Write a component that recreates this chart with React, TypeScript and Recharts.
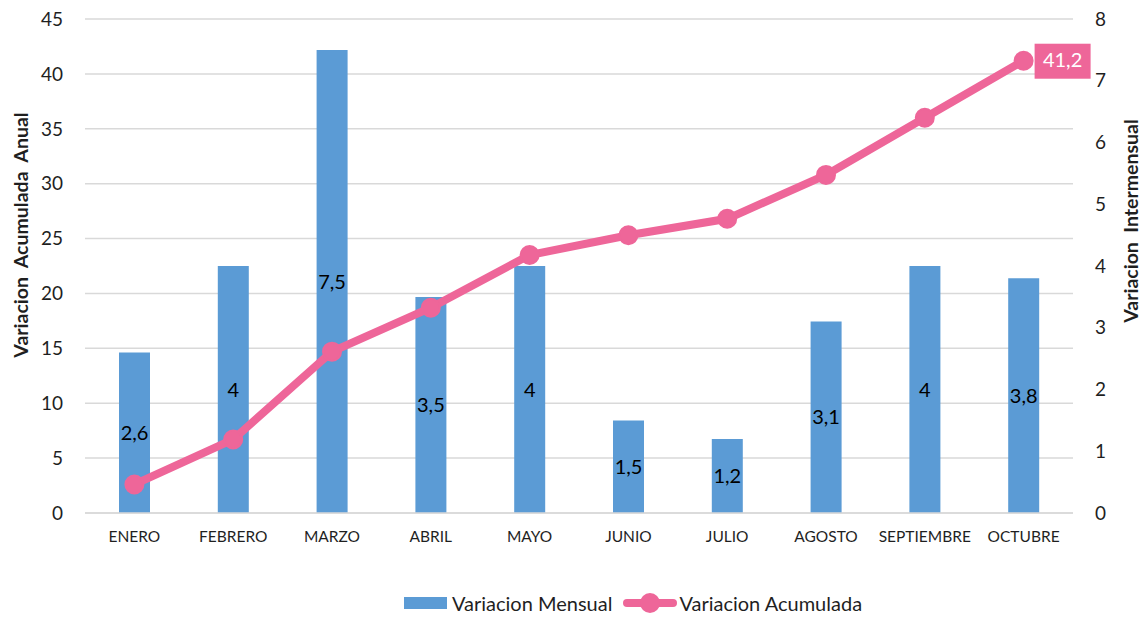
import {
  Bar,
  CartesianGrid,
  ComposedChart,
  LabelList,
  Legend,
  Line,
  XAxis,
  YAxis
} from "recharts";

const months = [
  "ENERO",
  "FEBRERO",
  "MARZO",
  "ABRIL",
  "MAYO",
  "JUNIO",
  "JULIO",
  "AGOSTO",
  "SEPTIEMBRE",
  "OCTUBRE"
];
const mensual = [2.6, 4, 7.5, 3.5, 4, 1.5, 1.2, 3.1, 4, 3.8];
const acumulada = [2.6, 6.7, 14.7, 18.7, 23.5, 25.3, 26.8, 30.8, 36.0, 41.2];
const leftTicks = [0, 5, 10, 15, 20, 25, 30, 35, 40, 45];
const rightTicks = [0, 1, 2, 3, 4, 5, 6, 7, 8];

const BLUE = "#5B9BD5";
const PINK = "#EE6699";
const GRID = "#D9D9D9";
const TEXT = "#1f1f1f";
const FONT = "Lato, 'Open Sans', sans-serif";

const data = months.map((month, i) => ({
  month,
  mensual: mensual[i],
  acumulada: acumulada[i]
}));

function comma(v: number) {
  return String(v).replace(".", ",");
}

function LastPointLabel(props: any) {
  const { x, y, value, index } = props;
  if (index !== acumulada.length - 1) return null;
  return (
    <g>
      <rect x={x + 11} y={y - 17} width={56} height={35} fill={PINK} />
      <text
        x={x + 39}
        y={y + 1}
        textAnchor="middle"
        dominantBaseline="middle"
        fill="#fff"
        fontSize={20}
        fontFamily={FONT}
      >
        {comma(value)}
      </text>
    </g>
  );
}

function ChartLegend() {
  return (
    <div
      style={{
        display: "flex",
        justifyContent: "center",
        alignItems: "center",
        height: 32,
        paddingLeft: 118,
        fontFamily: FONT,
        fontSize: 20,
        color: TEXT
      }}
    >
      <svg width={43} height={12} style={{ marginRight: 5 }}>
        <rect width={43} height={12} fill={BLUE} />
      </svg>
      <span style={{ marginRight: 11 }}>Variacion Mensual</span>
      <svg width={54} height={22} style={{ marginRight: 2 }}>
        <line x1={4} y1={11} x2={50} y2={11} stroke={PINK} strokeWidth={8} strokeLinecap="round" />
        <circle cx={27} cy={11} r={10} fill={PINK} />
      </svg>
      <span>Variacion Acumulada</span>
    </div>
  );
}

export default function App() {
  return (
    <div style={{ position: "absolute", left: 0, top: 0, background: "#fff" }}>
      <ComposedChart
        width={1148}
        height={619}
        data={data}
        margin={{ top: 19, right: 0, left: 0, bottom: 0 }}
      >
        <CartesianGrid yAxisId="left" vertical={false} stroke={GRID} strokeWidth={1.5} />
        <XAxis
          dataKey="month"
          interval={0}
          height={74}
          tickLine={false}
          axisLine={{ stroke: GRID, strokeWidth: 1.5 }}
          tickMargin={12}
          tick={{ fontSize: 15.5, fill: TEXT, fontFamily: FONT }}
        />
        <YAxis
          yAxisId="left"
          domain={[0, 45]}
          ticks={leftTicks}
          width={85}
          axisLine={false}
          tickLine={false}
          tickMargin={16}
          tick={{ fontSize: 19, fill: TEXT, fontFamily: FONT }}
          label={{
            content: () => (
              <text
                x={23}
                y={235}
                transform="rotate(-90 23 235)"
                textAnchor="middle"
                dominantBaseline="middle"
                fontSize={19.5}
                fontWeight="bold"
                fill={TEXT}
                fontFamily={FONT}
                style={{ whiteSpace: "pre" }}
              >
                {"Variacion  Acumulada  Anual"}
              </text>
            )
          }}
        />
        <YAxis
          yAxisId="right"
          orientation="right"
          domain={[0, 8]}
          ticks={rightTicks}
          width={75}
          axisLine={false}
          tickLine={false}
          tickMargin={16}
          tick={{ fontSize: 19, fill: TEXT, fontFamily: FONT }}
          label={{
            content: () => (
              <text
                x={1133}
                y={221}
                transform="rotate(-90 1133 221)"
                textAnchor="middle"
                dominantBaseline="middle"
                fontSize={19.5}
                fontWeight="bold"
                fill={TEXT}
                fontFamily={FONT}
                style={{ whiteSpace: "pre" }}
              >
                {"Variacion  Intermensual"}
              </text>
            )
          }}
        />
        <Legend verticalAlign="bottom" content={() => <ChartLegend />} />
        <Bar yAxisId="right" dataKey="mensual" fill={BLUE} barSize={31} isAnimationActive={false}>
          <LabelList
            dataKey="mensual"
            position="center"
            formatter={(v: any) => comma(Number(v))}
            fill="#000"
            fontSize={20}
            fontFamily={FONT}
          />
        </Bar>
        <Line
          yAxisId="left"
          dataKey="acumulada"
          stroke={PINK}
          strokeWidth={8}
          dot={{ r: 9, fill: PINK, stroke: PINK, strokeWidth: 2 }}
          activeDot={false}
          isAnimationActive={false}
        >
          <LabelList dataKey="acumulada" content={<LastPointLabel />} />
        </Line>
      </ComposedChart>
    </div>
  );
}
